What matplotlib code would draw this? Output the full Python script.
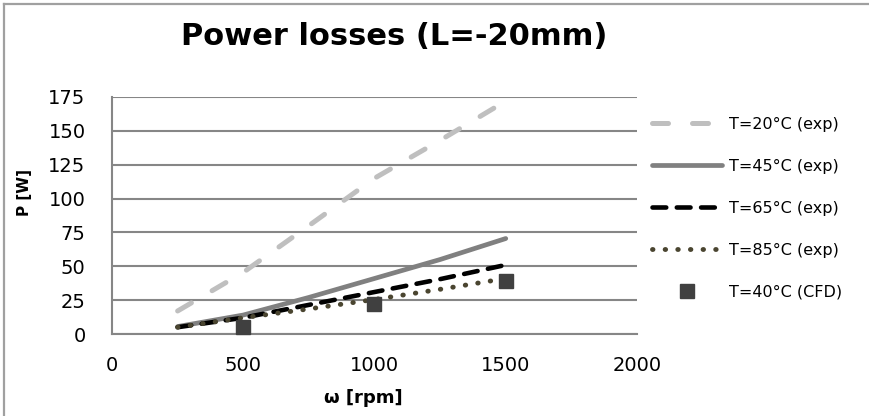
import matplotlib
matplotlib.use('Agg')
import matplotlib.pyplot as plt
from matplotlib.lines import Line2D

# data
omega = [250, 500, 750, 1000, 1250, 1500]
p_20 = [17, 45.5, 80, 115, 143, 172]
p_45 = [5.5, 14, 27, 41, 55, 70.5]
p_65 = [5, 12, 21.5, 31, 40.5, 51]
p_85 = [5, 12, 18.5, 25.5, 33, 41]
cfd_omega = [500, 1000, 1500]
cfd_p = [5.5, 22, 39.5]

x_ticks = [0, 500, 1000, 1500, 2000]
y_ticks = [0, 25, 50, 75, 100, 125, 150, 175]

W, H = 870, 416
fig = plt.figure(figsize=(W / 100, H / 100), dpi=100)
ax = fig.add_axes([112 / W, 1 - 334 / H, (637 - 112) / W, (334 - 97) / H])

ax.plot(omega, p_20, color='#bfbfbf', lw=3.6, dashes=(3.2, 4.8),
        dash_capstyle='round', label='T=20°C (exp)')
ax.plot(omega, p_45, color='#808080', lw=3.4, solid_capstyle='round',
        label='T=45°C (exp)')
ax.plot(omega, p_65, color='black', lw=3.3, dashes=(3.0, 2.3),
        dash_capstyle='round', label='T=65°C (exp)')
ax.plot(omega, p_85, color='#4a4530', lw=3.5, dashes=(0.1, 2.5),
        dash_capstyle='round', label='T=85°C (exp)')
ax.plot(cfd_omega, cfd_p, 's', color='#404040', ms=10, ls='none',
        label='T=40°C (CFD)', clip_on=False, zorder=5)

ax.set_xlim(0, 2000)
ax.set_ylim(0, 175)
ax.set_xticks(x_ticks)
ax.set_yticks(y_ticks)
ax.tick_params(length=0, labelsize=14)
ax.tick_params(axis='y', pad=19)
ax.tick_params(axis='x', pad=16)
ax.yaxis.grid(True, color='#868686', lw=1.5)
ax.set_axisbelow(True)
for s in ['top', 'right']:
    ax.spines[s].set_visible(False)
for s in ['left', 'bottom']:
    ax.spines[s].set_color('#868686')
    ax.spines[s].set_linewidth(1.5)

ax.legend(loc='upper left', bbox_to_anchor=(652 / W, 1 - 117 / H),
          bbox_transform=fig.transFigure, frameon=False, fontsize=11.5,
          handlelength=4.4, handletextpad=0.4, labelspacing=1.68,
          borderaxespad=0, borderpad=0)

fig.text(394 / W, 1 - 45 / H, 'Power losses (L=-20mm)', ha='center',
         va='baseline', fontsize=22, fontweight='bold')
fig.text(25 / W, 1 - 193 / H, 'P [W]', rotation=90, ha='center',
         va='center', fontsize=11, fontweight='bold',
         family=['Liberation Sans Narrow', 'DejaVu Sans'])
fig.text(363 / W, 1 - 398 / H, 'ω [rpm]', ha='center', va='center',
         fontsize=13, fontweight='bold')

# chart border (left and top visible in the reference)
fig.add_artist(Line2D([4 / W, 4 / W], [0, 1 - 4 / H], color='#a0a0a0', lw=1.6,
                      transform=fig.transFigure))
fig.add_artist(Line2D([4 / W, 1], [1 - 4 / H, 1 - 4 / H], color='#a0a0a0', lw=1.6,
                      transform=fig.transFigure))

fig.savefig('out.png', dpi=100)
